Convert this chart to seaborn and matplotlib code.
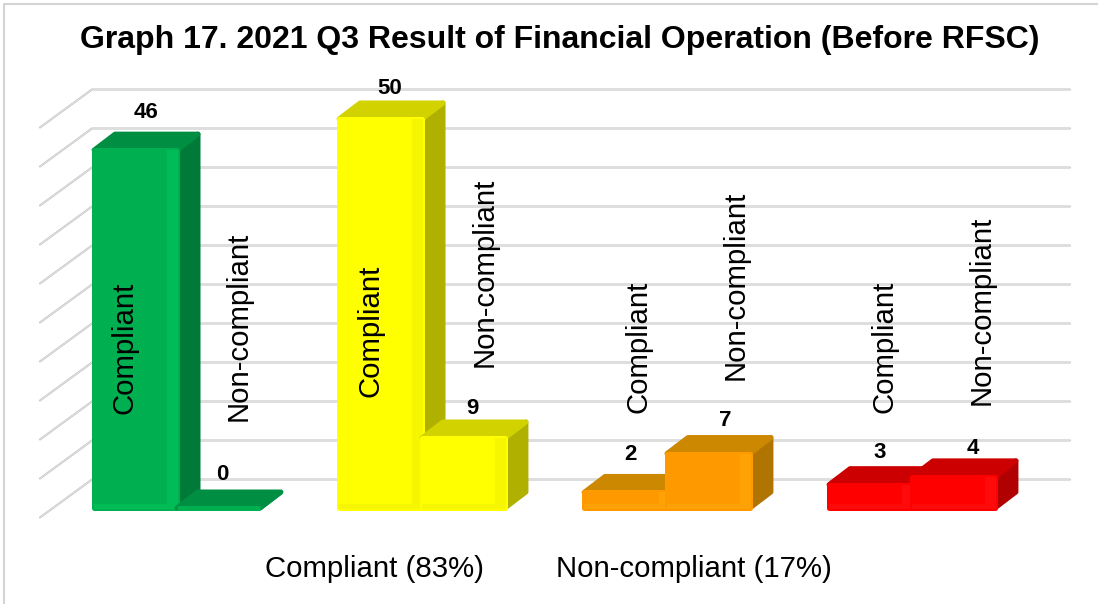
import numpy as np
import pandas as pd
import seaborn as sns
import matplotlib
matplotlib.use("Agg")
import matplotlib.pyplot as plt
from matplotlib.lines import Line2D
from matplotlib.patches import Polygon, Rectangle
from matplotlib.transforms import Affine2D

groups = ["Green", "Yellow", "Orange", "Red"]
series = ["Compliant", "Non-compliant"]
compliant_values = [46, 50, 2, 3]
noncompliant_values = [0, 9, 7, 4]
axis_ticks = [0, 5, 10, 15, 20, 25, 30, 35, 40, 45, 50]
title = "Graph 17. 2021 Q3 Result of Financial Operation (Before RFSC)"
bottom_labels = ["Compliant (83%)", "Non-compliant (17%)"]

front_colors = ["#00B050", "#FFFF00", "#FF9900", "#FF0000"]
bevel_colors = ["#00BC56", "#F6F600", "#FFA208", "#FF0A0A"]
side_colors = ["#007A38", "#B0B000", "#B07400", "#B00000"]
top_colors = ["#008F42", "#D2D200", "#CC8800", "#CC0000"]

W, H = 1098, 604
DEPTH_X, DEPTH_Y = 21, 16
BASE, PX_PER_UNIT = 508, 7.78
GROUP_STEP = 245
FIRST_CENTER = 177
STROKE = 3.6

sns.set_theme(style="white")
plt.rcParams["font.family"] = ["Liberation Sans", "DejaVu Sans"]

df = pd.DataFrame({
    "group": np.repeat(groups, 2),
    "series": series * 4,
    "value": np.ravel(np.column_stack([compliant_values, noncompliant_values])),
})

fig = plt.figure(figsize=(W / 100, H / 100), dpi=100, facecolor="white")
ax = fig.add_axes([0, 0, 1, 1])
sns.barplot(data=df, x="group", y="value", hue="series", hue_order=series,
            order=groups, width=0.677, gap=0, legend=False, ax=ax, zorder=5)
ax.set_xlim(-FIRST_CENTER / GROUP_STEP, (W - FIRST_CENTER) / GROUP_STEP)
ax.set_ylim(-(H - BASE) / PX_PER_UNIT, BASE / PX_PER_UNIT)
ax.axis("off")

pix = Affine2D().scale(1, -1).translate(0, H)


def to_pix(x, y):
    px, py = ax.transData.transform((x, y))
    return px, H - py


# wall lines and floor ticks
for t in axis_ticks:
    y = 479.5 - t * 39 / 5
    ax.plot([40, 92, 1070], [y + 38, y, y], transform=pix, color="#C4C4C4", lw=1.5,
            zorder=1, clip_on=False, solid_joinstyle="miter")
    ax.plot([40, 92, 1070], [y + 38, y, y], transform=pix, color="#F4F4F4", lw=0.4,
            zorder=1.1, clip_on=False)

# 3-D faces derived from every bar that seaborn drew
bars = []
for s_i, cont in enumerate(ax.containers):
    for g_i, bar in enumerate(cont):
        bars.append((g_i, s_i, bar))
bars.sort(key=lambda b: (b[0], b[1]))

z = 2.0
for g_i, s_i, bar in bars:
    x0, y1 = to_pix(bar.get_x(), bar.get_height())
    x1, y0 = to_pix(bar.get_x() + bar.get_width(), 0)
    common = dict(transform=pix, clip_on=False, joinstyle="round", lw=STROKE)
    side = [(x1, y0), (x1 + DEPTH_X, y0 - DEPTH_Y), (x1 + DEPTH_X, y1 - DEPTH_Y), (x1, y1)]
    top = [(x0, y1), (x0 + DEPTH_X, y1 - DEPTH_Y), (x1 + DEPTH_X, y1 - DEPTH_Y), (x1, y1)]
    ax.add_patch(Polygon(side, fc=side_colors[g_i], ec=side_colors[g_i], zorder=z, **common))
    ax.add_patch(Polygon(top, fc=top_colors[g_i], ec=top_colors[g_i], zorder=z + 0.1, **common))
    bar.set_facecolor(front_colors[g_i])
    bar.set_edgecolor(front_colors[g_i])
    bar.set_linewidth(STROKE)
    bar.set_joinstyle("round")
    bar.set_zorder(z + 0.2)
    bar.set_clip_on(False)
    # soft bevel on right and lower edge of the front face
    if bar.get_height() > 0:
        bev = min(10, (y0 - y1) * 0.5)
        ax.add_patch(Rectangle((x1 - bev, y1), bev + 1, y0 - y1, fc=bevel_colors[g_i], ec="none",
                               transform=pix, clip_on=False, zorder=z + 0.3))
        ax.add_patch(Rectangle((x0, y0 - 4), x1 - x0, 5, fc=bevel_colors[g_i], ec="none",
                               transform=pix, clip_on=False, zorder=z + 0.3))
    z += 1

# text
LABEL_SIZE = 21.2
fig.text(560 / W, 1 - 40 / H, title, fontsize=23.0, fontweight="bold", color="black",
         ha="center", va="center")
rot_positions = [(125, 348), (239, 326), (370, 331), (485, 272),
                 (639, 347), (736, 285), (885, 347), (982, 310)]
val_positions = [(146, 113), (222, 475), (390, 88), (472, 409),
                 (630, 454), (725, 420), (880, 452), (973, 449)]
for (g_i, s_i, bar), (rx, ry), (vx, vy) in zip(bars, rot_positions, val_positions):
    fig.text(rx / W, 1 - ry / H, series[s_i], rotation=90, fontsize=LABEL_SIZE, color="black",
             ha="center", va="center", zorder=20)
    fig.text(vx / W, 1 - vy / H, f"{int(bar.get_height())}", fontsize=16, fontweight="bold",
             color="black", ha="center", va="center", zorder=20)
for label, x in zip(bottom_labels, [374, 694]):
    fig.text(x / W, 1 - 569 / H, label, fontsize=LABEL_SIZE, color="black", ha="center", va="center")

# picture frame: only the left and top edges show in the reference
fig.add_artist(Line2D([4 / W, 4 / W, 1], [0, 1 - 4 / H, 1 - 4 / H], color="#D4D4D4", lw=1.5,
                      transform=fig.transFigure))

fig.savefig("out.png", dpi=100)
